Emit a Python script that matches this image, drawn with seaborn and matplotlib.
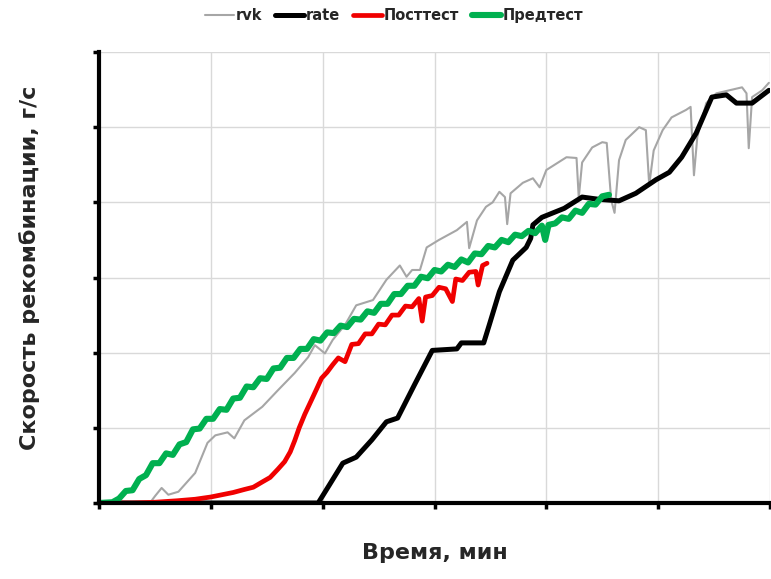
import matplotlib
matplotlib.use("Agg")
import matplotlib.pyplot as plt
import seaborn as sns
import pandas as pd

# ---- data (axis units = grid cells) ----
rvk_x = [0.00, 0.46, 0.50, 0.56, 0.62, 0.71, 0.86, 0.97, 1.04, 1.15, 1.21, 1.30, 1.46, 1.60,
         1.75, 1.87, 1.93, 2.02, 2.09, 2.20, 2.30, 2.45, 2.57, 2.69, 2.75, 2.80, 2.87, 2.93,
         3.04, 3.20, 3.29, 3.31, 3.38, 3.46, 3.52, 3.58, 3.63, 3.65, 3.68, 3.79, 3.88, 3.94,
         4.00, 4.18, 4.27, 4.29, 4.32, 4.41, 4.50, 4.54, 4.58, 4.61, 4.65, 4.71, 4.83, 4.89,
         4.92, 4.96, 5.04, 5.12, 5.25, 5.29, 5.32, 5.35, 5.43, 5.52, 5.75, 5.79, 5.81, 5.84,
         5.93, 5.99]
rvk_y = [0.00, 0.01, 0.09, 0.20, 0.11, 0.15, 0.40, 0.80, 0.90, 0.94, 0.86, 1.10, 1.28, 1.50,
         1.73, 1.94, 2.10, 1.99, 2.17, 2.37, 2.63, 2.70, 2.97, 3.16, 3.01, 3.10, 3.10, 3.40,
         3.50, 3.63, 3.74, 3.39, 3.76, 3.94, 4.00, 4.14, 4.07, 3.71, 4.12, 4.26, 4.32, 4.20,
         4.43, 4.60, 4.59, 4.06, 4.53, 4.73, 4.80, 4.79, 4.03, 3.86, 4.56, 4.83, 5.00, 4.96,
         4.23, 4.69, 4.96, 5.13, 5.23, 5.27, 4.36, 4.87, 5.32, 5.45, 5.53, 5.45, 4.72, 5.40,
         5.49, 5.59]

rate_x = [0.00, 1.96, 2.06, 2.18, 2.30, 2.44, 2.57, 2.67, 2.82, 2.98, 3.20, 3.24, 3.44, 3.49,
          3.58, 3.70, 3.82, 3.86, 3.88, 3.96, 4.16, 4.32, 4.47, 4.65, 4.80, 4.98, 5.10, 5.21,
          5.34, 5.48, 5.61, 5.70, 5.84, 5.99]
rate_y = [0.00, 0.00, 0.24, 0.53, 0.61, 0.84, 1.08, 1.13, 1.57, 2.03, 2.05, 2.13, 2.13, 2.37,
          2.81, 3.23, 3.40, 3.52, 3.70, 3.80, 3.92, 4.07, 4.04, 4.02, 4.12, 4.30, 4.40, 4.60,
          4.92, 5.40, 5.43, 5.32, 5.32, 5.49]

post_x = [0.00, 0.30, 0.50, 0.70, 0.86, 1.00, 1.10, 1.20, 1.30, 1.38, 1.46, 1.53, 1.60, 1.66,
          1.71, 1.75, 1.79, 1.84, 1.90, 1.95, 1.99, 2.04, 2.09, 2.14, 2.20, 2.26, 2.32, 2.38,
          2.44, 2.50, 2.56, 2.62, 2.68, 2.74, 2.80, 2.86, 2.89, 2.92, 2.98, 3.04, 3.10, 3.16,
          3.19, 3.25, 3.31, 3.37, 3.39, 3.43, 3.47]
post_y = [0.00, 0.00, 0.01, 0.03, 0.05, 0.08, 0.11, 0.14, 0.18, 0.21, 0.28, 0.34, 0.45, 0.55,
          0.68, 0.83, 1.00, 1.18, 1.37, 1.53, 1.66, 1.74, 1.84, 1.93, 1.88, 2.11, 2.12, 2.25,
          2.25, 2.38, 2.37, 2.50, 2.50, 2.62, 2.61, 2.72, 2.42, 2.74, 2.76, 2.87, 2.85, 2.68,
          2.98, 2.96, 3.07, 3.08, 2.90, 3.16, 3.19]

pre_x = [0.00, 0.12, 0.18, 0.24, 0.30, 0.36, 0.42, 0.48, 0.54, 0.60, 0.66, 0.72, 0.78, 0.84,
         0.90, 0.96, 1.02, 1.08, 1.14, 1.20, 1.26, 1.32, 1.38, 1.44, 1.50, 1.56, 1.62, 1.68,
         1.74, 1.80, 1.86, 1.92, 1.98, 2.04, 2.10, 2.16, 2.22, 2.28, 2.34, 2.40, 2.46, 2.52,
         2.58, 2.64, 2.70, 2.76, 2.82, 2.88, 2.94, 3.00, 3.06, 3.12, 3.18, 3.24, 3.30, 3.36,
         3.42, 3.48, 3.54, 3.60, 3.66, 3.72, 3.78, 3.84, 3.90, 3.96, 3.99, 4.02, 4.08, 4.14,
         4.20, 4.26, 4.32, 4.38, 4.44, 4.50, 4.56]
pre_y = [0.00, 0.01, 0.06, 0.16, 0.17, 0.32, 0.37, 0.53, 0.53, 0.66, 0.64, 0.78, 0.81, 0.98,
         0.99, 1.12, 1.12, 1.25, 1.24, 1.39, 1.40, 1.55, 1.54, 1.66, 1.65, 1.79, 1.80, 1.93,
         1.93, 2.05, 2.05, 2.18, 2.16, 2.27, 2.26, 2.36, 2.34, 2.45, 2.44, 2.55, 2.53, 2.65,
         2.65, 2.78, 2.78, 2.89, 2.89, 3.01, 2.99, 3.10, 3.08, 3.17, 3.14, 3.24, 3.20, 3.32,
         3.31, 3.42, 3.40, 3.50, 3.47, 3.57, 3.55, 3.62, 3.59, 3.69, 3.50, 3.70, 3.72, 3.80,
         3.78, 3.89, 3.86, 3.98, 3.97, 4.08, 4.10]

series_labels = ["rvk", "rate", "Посттест", "Предтест"]
x_label = "Время, мин"
y_label = "Скорость рекомбинации, г/с"

# ---- figure ----
sns.set_style("white")
plt.rcParams["font.family"] = ["DejaVu Sans"]

fig = plt.figure(figsize=(7.71, 5.79), dpi=100)
ax = fig.add_axes([99 / 771, 76 / 579, 671 / 771, 451 / 579])

styles = [
    (rvk_x, rvk_y, "#a6a6a6", 1.5),
    (rate_x, rate_y, "#000000", 3.6),
    (post_x, post_y, "#f00000", 3.4),
    (pre_x, pre_y, "#00b050", 4.4),
]
for (xs, ys, col, lw), lab in zip(styles, series_labels):
    df = pd.DataFrame({"x": xs, "y": ys})
    sns.lineplot(data=df, x="x", y="y", ax=ax, color=col, linewidth=lw,
                 label=lab, sort=False, estimator=None, legend=False)

ax.set_xlim(0, 6)
ax.set_ylim(0, 6)
ax.set_xticks(range(0, 7))
ax.set_yticks(range(0, 7))
ax.set_xticklabels([])
ax.set_yticklabels([])
ax.grid(True, color="#d9d9d9", linewidth=1.0)
ax.set_axisbelow(True)
ax.set_xlabel("")
ax.set_ylabel("")
for s in ["top", "right"]:
    ax.spines[s].set_visible(False)
for s in ["left", "bottom"]:
    ax.spines[s].set_color("black")
    ax.spines[s].set_linewidth(3.0)
ax.tick_params(axis="both", direction="out", length=4, width=2.5, color="black",
               bottom=True, left=True)

handles = [plt.Line2D([], [], color=c, lw=lw) for (_, _, c, lw) in styles]
fig.legend(handles, series_labels, loc="center", bbox_to_anchor=(0.511, 0.973), ncol=4,
           frameon=False, prop={"weight": "bold", "size": 10.5}, handlelength=2.0,
           handletextpad=0.1, columnspacing=0.9)

fig.text(0.564, 0.045, x_label, ha="center", va="center", fontsize=16, fontweight="bold")
fig.text(30 / 771, 1 - 268 / 579, y_label, ha="center", va="center", rotation=90,
         fontsize=16, fontweight="bold")

fig.savefig("out.png", dpi=100, facecolor="white")
